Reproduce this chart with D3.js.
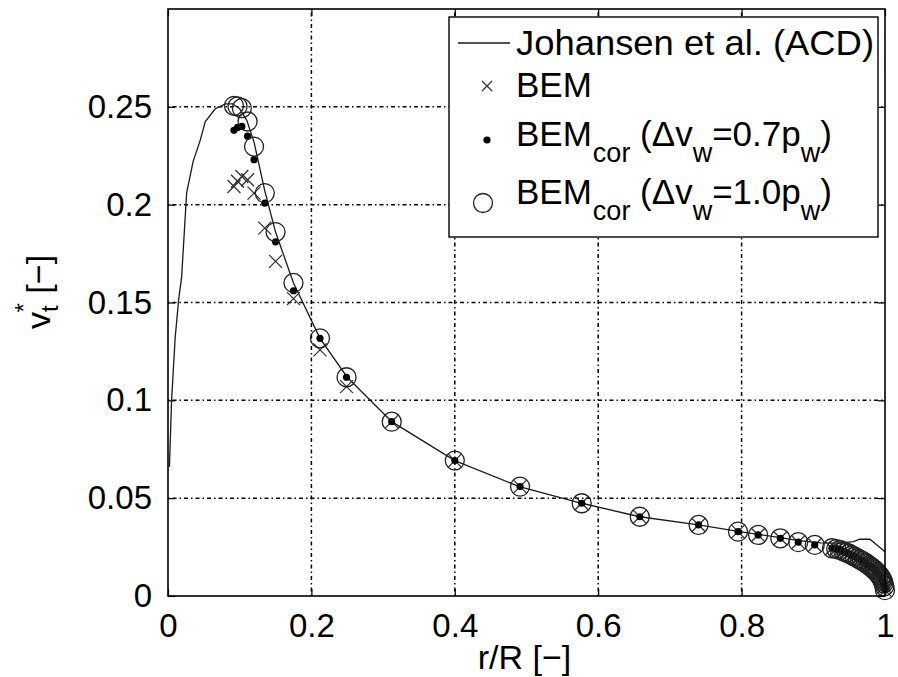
<!DOCTYPE html>
<html>
<head>
<meta charset="utf-8">
<script src="https://cdn.jsdelivr.net/npm/d3@7"></script>
<style>
  html, body { margin: 0; padding: 0; background: #fff; }
  svg { display: block; font-family: "Liberation Sans", Arial, sans-serif; }
</style>
</head>
<body>
<svg id="chart" width="898" height="677"></svg>
<script>
// ---------------- data ----------------
const xTicks = [0, 0.2, 0.4, 0.6, 0.8, 1];
const xTickLabels = ["0", "0.2", "0.4", "0.6", "0.8", "1"];
const yTicks = [0, 0.05, 0.1, 0.15, 0.2, 0.25];
const yTickLabels = ["0", "0.05", "0.1", "0.15", "0.2", "0.25"];

// Johansen et al. (ACD) line
const acdR = [0.002, 0.005, 0.01, 0.015, 0.019, 0.026, 0.035, 0.045, 0.052, 0.066, 0.08, 0.09, 0.1, 0.11, 0.12, 0.135, 0.15, 0.175, 0.212, 0.25, 0.312, 0.4, 0.49, 0.577, 0.658, 0.74, 0.795, 0.823, 0.854, 0.88, 0.91, 0.935, 0.956, 0.965, 0.979, 1.0];
const acdV = [0.066, 0.1, 0.132, 0.152, 0.163, 0.206, 0.222, 0.233, 0.2425, 0.249, 0.2515, 0.2515, 0.249, 0.243, 0.232, 0.207, 0.186, 0.16, 0.1317, 0.1118, 0.0891, 0.0692, 0.0559, 0.0474, 0.0405, 0.0363, 0.033, 0.0315, 0.0298, 0.0283, 0.0272, 0.027, 0.0278, 0.029, 0.029, 0.0226];

// inner (root) stations, where the three BEM variants differ
const innerR = [0.092, 0.097, 0.103, 0.111, 0.12, 0.135, 0.15, 0.175, 0.212, 0.249];
const bemInnerV = [0.2093, 0.212, 0.2144, 0.2127, 0.2059, 0.188, 0.171, 0.152, 0.1258, 0.107];
const cor07InnerV = [0.238, 0.2395, 0.24, 0.235, 0.223, 0.2008, 0.181, 0.156, 0.1317, 0.1118];
const cor10InnerV = [0.2505, 0.2502, 0.2493, 0.2425, 0.2297, 0.2059, 0.186, 0.16, 0.1317, 0.1118];

// outer stations, where all three BEM variants coincide
const outerR = [0.312, 0.4, 0.491, 0.577, 0.658, 0.74, 0.795, 0.823, 0.854, 0.879, 0.902, 0.926,
  0.932, 0.937, 0.942, 0.946, 0.95, 0.954, 0.958, 0.962, 0.965, 0.968, 0.971, 0.974, 0.977, 0.98,
  0.982, 0.984, 0.986, 0.988, 0.99, 0.992, 0.994, 0.995, 0.996, 0.997, 0.998, 0.999, 1.0];
const outerV = [0.0891, 0.0692, 0.0559, 0.0474, 0.0405, 0.0363, 0.0329, 0.0312, 0.0295, 0.0275, 0.0261, 0.0244,
  0.024, 0.0235, 0.0228, 0.0222, 0.0216, 0.0208, 0.02, 0.0192, 0.0186, 0.018, 0.0173, 0.0166, 0.0158, 0.015,
  0.0144, 0.0138, 0.0131, 0.0124, 0.0116, 0.0107, 0.0097, 0.0091, 0.0084, 0.0075, 0.0065, 0.005, 0.003];

// ---------------- layout ----------------
const svg = d3.select("#chart");
const L = 168, R = 885, T = 9, B = 596;
const x = d3.scaleLinear().domain([0, 1]).range([L, R]);
const y = d3.scaleLinear().domain([0, 0.3]).range([B, T]);

const zipPts = (rs, vs) => rs.map((r, i) => ({ r, v: vs[i] }));
const acd = zipPts(acdR, acdV);
const bem = zipPts(innerR.concat(outerR), bemInnerV.concat(outerV));
const cor07 = zipPts(innerR.concat(outerR), cor07InnerV.concat(outerV));
const cor10 = zipPts(innerR.concat(outerR), cor10InnerV.concat(outerV));

// grid
const grid = svg.append("g").attr("stroke", "#000").attr("stroke-width", 1.5)
  .attr("stroke-dasharray", "1.5,3,4,3");
grid.selectAll("line.gx").data(xTicks.slice(1, -1)).join("line")
  .attr("x1", d => x(d)).attr("x2", d => x(d)).attr("y1", B).attr("y2", T);
grid.selectAll("line.gy").data(yTicks.slice(1)).join("line")
  .attr("y1", d => y(d)).attr("y2", d => y(d)).attr("x1", L).attr("x2", R);

// axes
const fontSize = 33;
const xAxis = d3.axisBottom(x).tickValues(xTicks).tickFormat((d, i) => xTickLabels[i])
  .tickSizeInner(-7).tickSizeOuter(0).tickPadding(18);
const gx = svg.append("g").attr("transform", `translate(0,${B})`).call(xAxis);
const yAxis = d3.axisLeft(y).tickValues(yTicks).tickFormat((d, i) => yTickLabels[i])
  .tickSizeInner(-7).tickSizeOuter(0).tickPadding(16);
const gy = svg.append("g").attr("transform", `translate(${L},0)`).call(yAxis);
const xTop = d3.axisTop(x).tickValues(xTicks).tickFormat("").tickSizeInner(-7).tickSizeOuter(0);
svg.append("g").attr("transform", `translate(0,${T})`).call(xTop);
const yRight = d3.axisRight(y).tickValues(yTicks).tickFormat("").tickSizeInner(-7).tickSizeOuter(0);
svg.append("g").attr("transform", `translate(${R},0)`).call(yRight);
svg.selectAll(".domain").remove();
svg.selectAll(".tick line").attr("stroke", "#000").attr("stroke-width", 1.2);
[gx, gy].forEach(g => g.selectAll("text")
  .attr("font-size", fontSize).attr("fill", "#000")
  .attr("font-family", "Liberation Sans, Arial, sans-serif"));

// Johansen line
svg.append("path").datum(acd)
  .attr("fill", "none").attr("stroke", "#1a1a1a").attr("stroke-width", 1.3)
  .attr("d", d3.line().x(d => x(d.r)).y(d => y(d.v)));

// BEM crosses
const cs = 6.5;
svg.append("g").selectAll("path").data(bem).join("path")
  .attr("transform", d => `translate(${x(d.r)},${y(d.v)})`)
  .attr("d", `M${-cs},${-cs}L${cs},${cs}M${-cs},${cs}L${cs},${-cs}`)
  .attr("stroke", "#333").attr("stroke-width", 1.3).attr("fill", "none");

// BEM_cor 0.7 dots
svg.append("g").selectAll("circle").data(cor07).join("circle")
  .attr("cx", d => x(d.r)).attr("cy", d => y(d.v)).attr("r", 3.6).attr("fill", "#000");

// BEM_cor 1.0 circles
svg.append("g").selectAll("circle").data(cor10).join("circle")
  .attr("cx", d => x(d.r)).attr("cy", d => y(d.v)).attr("r", 9.5)
  .attr("fill", "none").attr("stroke", "#222").attr("stroke-width", 1.3);

// axes box
svg.append("rect").attr("x", L).attr("y", T).attr("width", R - L).attr("height", B - T)
  .attr("fill", "none").attr("stroke", "#000").attr("stroke-width", 1.6);

// axis titles
svg.append("text").attr("x", (L + R) / 2 - 2).attr("y", 669).attr("text-anchor", "middle")
  .attr("font-size", 34).text("r/R [\u2212]");

const yl = svg.append("text").attr("transform", "translate(50,292) rotate(-90)")
  .attr("text-anchor", "middle").attr("font-size", 34);
yl.append("tspan").text("v");
yl.append("tspan").attr("font-size", 24).attr("dy", 8).text("t");
yl.append("tspan").attr("font-size", 24).attr("dx", -7).attr("dy", -26).text("*");
yl.append("tspan").attr("dy", 18).text(" [\u2212]");

// legend
const lg = svg.append("g");
lg.append("rect").attr("x", 449).attr("y", 17).attr("width", 429).attr("height", 220)
  .attr("fill", "#fff").attr("stroke", "#000").attr("stroke-width", 1.4);
const lfs = 35, sfs = 27;
lg.append("line").attr("x1", 458).attr("x2", 510).attr("y1", 43).attr("y2", 43)
  .attr("stroke", "#1a1a1a").attr("stroke-width", 1.3);
lg.append("text").attr("x", 516).attr("y", 55).attr("font-size", lfs)
  .attr("textLength", 358).attr("lengthAdjust", "spacingAndGlyphs")
  .text("Johansen et al. (ACD)");

lg.append("path").attr("transform", "translate(487,86)")
  .attr("d", `M-5,-5L5,5M-5,5L5,-5`).attr("stroke", "#333").attr("stroke-width", 1.3);
lg.append("text").attr("x", 516).attr("y", 97).attr("font-size", lfs).text("BEM");

lg.append("circle").attr("cx", 487).attr("cy", 140).attr("r", 3.6).attr("fill", "#000");
lg.append("circle").attr("cx", 483).attr("cy", 203).attr("r", 9.5)
  .attr("fill", "none").attr("stroke", "#222").attr("stroke-width", 1.3);

function corLabel(yb, val) {
  const t = lg.append("text").attr("x", 516).attr("y", yb).attr("font-size", lfs);
  t.append("tspan").text("BEM");
  t.append("tspan").attr("font-size", sfs).attr("dx", 1).attr("dy", 16).text("cor");
  t.append("tspan").attr("dy", -16).text(" (\u0394v");
  t.append("tspan").attr("font-size", sfs).attr("dy", 16).text("w");
  t.append("tspan").attr("dy", -16).text("=" + val + "p");
  t.append("tspan").attr("font-size", sfs).attr("dy", 16).text("w");
  t.append("tspan").attr("dy", -16).text(")");
}
corLabel(146, "0.7");
corLabel(204, "1.0");
</script>
</body>
</html>
